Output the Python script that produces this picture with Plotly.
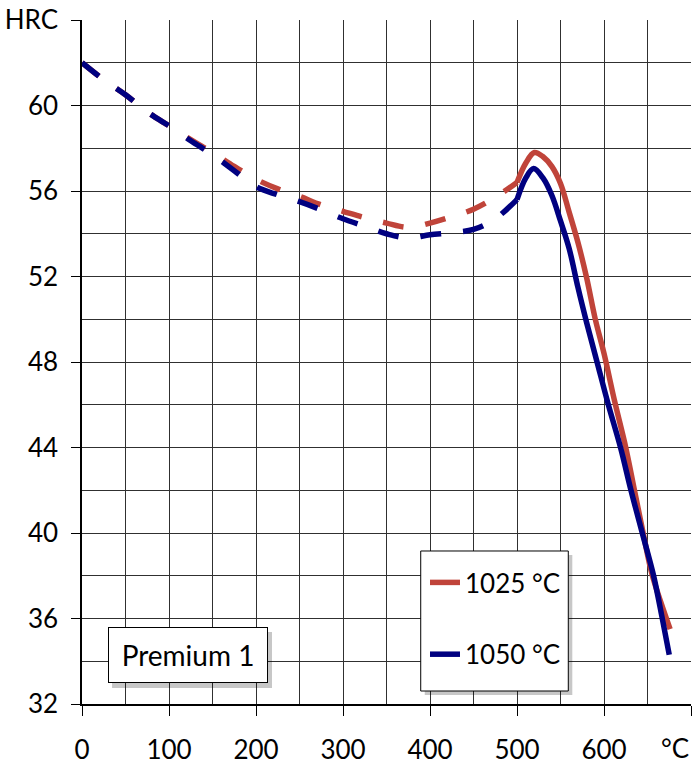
import plotly.graph_objects as go

# --- data ---
temp_dashed = [0, 25, 50, 75, 100, 125, 150, 175, 200, 225, 250, 275, 300, 325, 350, 375, 400, 425, 450, 475, 500]
hrc_1025_dashed = [62.0, 61.2, 60.5, 59.7, 59.05, 58.4, 57.8, 57.15, 56.55, 56.1, 55.75, 55.35, 55.05, 54.75, 54.5, 54.3, 54.5, 54.8, 55.15, 55.7, 56.4]
hrc_1050_dashed = [62.0, 61.2, 60.5, 59.7, 59.05, 58.35, 57.7, 56.95, 56.2, 55.82, 55.5, 55.12, 54.7, 54.35, 54.0, 53.8, 53.95, 54.05, 54.2, 54.7, 55.6]

temp_1025_solid = [500, 510, 520, 530, 540, 550, 560, 570, 580, 590, 600, 612, 625, 635, 645, 655, 665, 676]
hrc_1025_solid = [56.4, 57.3, 57.8, 57.6, 57.15, 56.35, 55.0, 53.6, 51.95, 50.0, 48.4, 46.2, 44.0, 42.0, 40.0, 38.1, 36.8, 35.5]

temp_1050_solid = [500, 510, 519, 530, 540, 550, 560, 570, 580, 592, 605, 619, 631, 644, 657, 667, 675]
hrc_1050_solid = [55.6, 56.6, 57.05, 56.6, 55.8, 54.6, 53.3, 51.5, 49.85, 48.0, 46.0, 44.0, 42.0, 40.0, 38.0, 36.0, 34.3]

x_tickvals = [0, 100, 200, 300, 400, 500, 600, 700]
x_ticktext = ["0", "100", "200", "300", "400", "500", "600", ""]
y_tickvals = [32, 36, 40, 44, 48, 52, 56, 60, 64]
y_ticktext = ["32", "36", "40", "44", "48", "52", "56", "60", "HRC"]

series_names = ["1025 °C", "1050 °C"]
RED = "#C0443A"
BLUE = "#000080"
FONT = "Lato, Carlito, Calibri, sans-serif"
GRID = "#303030"

fig = go.Figure()
fig.add_trace(go.Scatter(x=temp_dashed, y=hrc_1025_dashed, mode="lines", line=dict(color=RED, width=5.5, dash="21px,22px", shape="spline"), showlegend=False, legendgroup="a"))
fig.add_trace(go.Scatter(x=temp_1025_solid, y=hrc_1025_solid, mode="lines", name=series_names[0], line=dict(color=RED, width=5.5, shape="spline"), legendgroup="a"))
fig.add_trace(go.Scatter(x=temp_dashed, y=hrc_1050_dashed, mode="lines", line=dict(color=BLUE, width=5.5, dash="21px,22px", shape="spline"), showlegend=False, legendgroup="b"))
fig.add_trace(go.Scatter(x=temp_1050_solid, y=hrc_1050_solid, mode="lines", name=series_names[1], line=dict(color=BLUE, width=5.5, shape="spline"), legendgroup="b"))

fig.update_layout(
    width=692, height=765,
    margin=dict(l=82, r=1, t=20, b=61),
    paper_bgcolor="white", plot_bgcolor="white",
    font=dict(family=FONT, size=26, color="black"),
    xaxis=dict(range=[0, 700], tickmode="array", tickvals=x_tickvals, ticktext=x_ticktext,
               ticks="outside", ticklen=10, tickcolor="black", tickwidth=1,
               showgrid=True, gridcolor=GRID, gridwidth=1,
               minor=dict(tickvals=[50, 150, 250, 350, 450, 550, 650], showgrid=True, gridcolor=GRID, gridwidth=1, ticks=""),
               showline=True, linecolor="black", linewidth=1.5, zeroline=False,
               ticklabelstandoff=12),
    yaxis=dict(range=[32, 64], tickmode="array", tickvals=y_tickvals, ticktext=y_ticktext,
               ticks="outside", ticklen=9, tickcolor="black", tickwidth=1,
               showgrid=True, gridcolor=GRID, gridwidth=1,
               minor=dict(tickvals=[34, 38, 42, 46, 50, 54, 58, 62], showgrid=True, gridcolor=GRID, gridwidth=1, ticks=""),
               showline=True, linecolor="black", linewidth=1.5, zeroline=False,
               ticklabelstandoff=8),
    legend=dict(x=0.5632, y=0.212, xanchor="left", yanchor="top",
                bgcolor="rgba(0,0,0,0)", borderwidth=0,
                font=dict(family=FONT, size=26, color="black"),
                traceorder="grouped", tracegroupgap=35, itemwidth=30),
)

# legend frame: shadow + white box
fig.add_shape(type="rect", xref="paper", yref="paper",
              x0=0.5628, x1=0.8051, y0=0.0132, y1=0.2178,
              fillcolor="rgba(0,0,0,0.22)", line=dict(width=0), layer="above")
fig.add_shape(type="rect", xref="paper", yref="paper",
              x0=0.5562, x1=0.7985, y0=0.0190, y1=0.2237,
              fillcolor="white", line=dict(color="black", width=1), layer="above")

# Premium 1 label shadow
fig.add_shape(type="rect", xref="paper", yref="paper",
              x0=0.0493, x1=0.312, y0=0.0234, y1=0.1053,
              fillcolor="rgba(0,0,0,0.22)", line=dict(width=0), layer="above")
fig.add_annotation(x=122.2, y=34.29, xref="x", yref="y", text="Premium 1", showarrow=False,
                   width=152, height=48, bgcolor="white", borderpad=3, bordercolor="black",
                   borderwidth=1, font=dict(color="black", size=28, family=FONT))
# x unit label
fig.add_annotation(x=682, y=0, xref="x", yref="paper", yanchor="middle", yshift=-44, text="°C", showarrow=False,
                   font=dict(color="black", size=26, family=FONT))

fig.write_html("out.html", config={"displayModeBar": False},
               post_script="document.body.style.margin='0';")
